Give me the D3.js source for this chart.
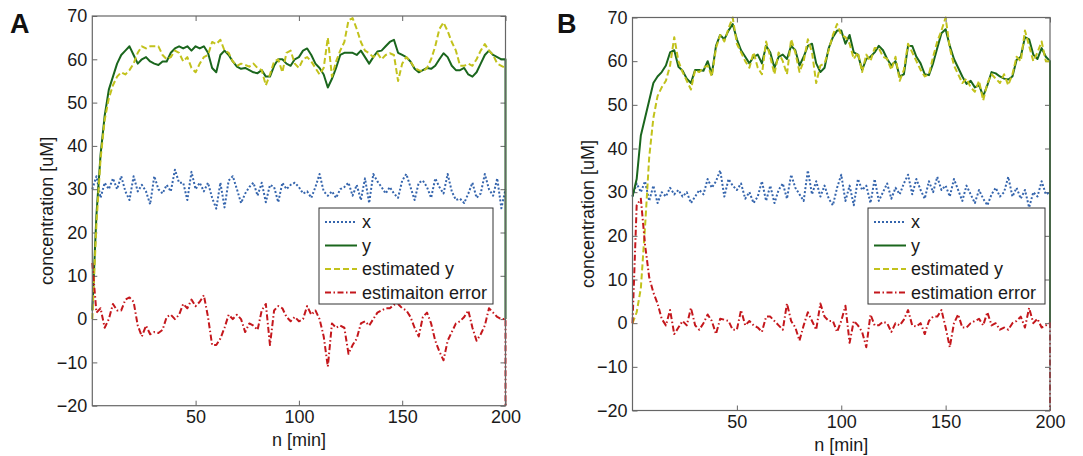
<!DOCTYPE html>
<html>
<head>
<meta charset="utf-8">
<script src="https://cdn.jsdelivr.net/npm/d3@7"></script>
<style>
  body { margin: 0; background: #fff; }
  text { font-family: "Liberation Sans", Arial, sans-serif; }
</style>
</head>
<body>
<svg id="chart" width="1083" height="456"></svg>
<script>
// sample times (min); the last time is repeated for the final drop of the simulation
const nGrid = [0,2,4,6,8,10,12,14,16,18,20,22,24,26,28,30,32,34,36,38,40,42,44,46,48,50,52,54,56,58,
  60,62,64,66,68,70,72,74,76,78,80,82,84,86,88,90,92,94,96,98,100,102,104,106,108,110,112,114,116,118,
  120,122,124,126,128,130,132,134,136,138,140,142,144,146,148,150,152,154,156,158,160,162,164,166,168,170,
  172,174,176,178,180,182,184,186,188,190,192,194,196,198,200,200];

// panel A
const aX = [30,33,28,31.5,30,32.5,30,33,29.5,27.5, 33,29.5,31,29.5,26.5,33,30,29,31,29.5,
  34.5,31.5,31.5,27.5,34,30,31.5,29.5,31.5,28, 25.5,31.5,25.8,32,33,30,26.8,29,30.5,31.5,
  28.5,31.5,27,31,30.5,27,31.5,30,31,31.5, 30.5,29,29.5,28,30.5,33.5,29.5,28.5,29.5,28,
  30,30.5,31.5,28.5,31,27.5,32.5,26.8,33.5,31.8, 30.5,29,30.5,29,28,32,33.5,30.5,27.5,31.5,
  32,30.5,28,32.5,30.5,29,33.5,29.5,27.5,27.8, 26.8,29,31.5,28,29,33.5,30,28.5,32.5,25.6, 30,30];
const aY = [2,24,38,47,53,56,59,61,62,63, 61,59,60,60.5,59.5,59,58.7,59.5,59.5,61.5,
  62.5,63,62.5,63,62,63,62.5,63,61.5,58, 57,61,62,61,59.5,58.3,57.8,58,57.5,57,
  56.8,57.5,56,56,58.5,60,60,59,58.5,60, 60.5,62,62.5,61,59,58,56.5,53.5,55.5,58,
  61,61.5,61.5,61.5,61,62,60.5,59,60.5,61.8, 62,63,64,64.5,61.5,61,60.5,59.5,57.8,57,
  57.5,58,57.8,58.5,60,61.4,60.5,58.5,57.5,57.5, 58,56.5,56,57,59,61,62,61,60.5,60, 60,0];
const aEst = [0,22,37,46,51,54,56,57,56.5,57.5, 59,61.5,63,62.5,63,63,63,61,60,60.5,
  62,61.5,59.5,60.5,58,57,59,60.5,61,64, 63.5,64.5,62,61.5,59.5,58.5,59,58.7,58.3,59,
  58,57.5,54,56.5,59.5,60,57,61.5,62,59, 58,60,60.5,59.5,58,56.5,58,65,56,59.5,
  62,64,69,69.5,67,64,62,61.4,60.5,61.4, 60,61,61.4,61,55,59,60.5,59.5,58,57.5,
  57.2,58,60,63,67,68.5,66.5,64,62,58.5, 58.5,59,58.5,60,62,63.5,62,61,59,58.5, 58,58];
const aErr = [13,1.5,2.5,-2,0,3.5,2,2,4.5,5, 4,-1.5,-4,-1.5,-3.5,-3,-3.2,-2.5,0.5,1,
  0,1,3.5,2.5,4.5,3,4,5.5,0.5,-6, -6,-4.5,-2,1,0,1,0,-3,-1,-1.5,
  -2.5,2,3.5,-6,2,3,2.5,0.5,-0.5,0.5, -0.5,0,3,1,2,0,-4,-11,-1,-2,
  -1.5,-2,-8,-6,-4.5,-1,-0.5,-1.5,0,1.5, 2,2.5,2.5,3.3,3.5,2.5,2,0.5,-2,-4,
  0.5,1.5,-1,-5,-7.5,-9.5,-5,-3,-1,-0.5, 0.5,2,-2,-5,-3.5,-1.5,2.5,1.5,0.5,0, 0,-20];

// panel B
const bX = [29,32,30,32.5,28,31.5,27.5,30,29,31, 29.5,30.5,29,30,27.5,29,30.5,29.5,33,31,
  32.5,35,29,33,31.5,30.5,32,28.5,30,27.5, 29,32.5,28,31.5,27.5,30.5,32,28.5,34,31,
  29.5,28,35,29.5,32.5,29,31.5,28.5,27,31, 34,28,31.5,27,33,30.5,31.5,27.5,33,28,
  30,32,28.5,31,29.5,32,34,29.5,33,30.5, 28.5,32.5,30,33.5,30.5,31.5,29,33,30.5,28,
  31.5,29.5,27.5,30.5,28.5,27,29.5,31,29,30, 33.5,29,31,28.5,30.5,26.5,30,29,32.5,29.5, 30,30];
const bY = [29,33,43,47,51,55,56.5,57.5,59,62, 62.5,58.7,57.8,56,55,58,58,57.8,60,57,
  63.5,66,65,67,68.5,65,62.5,61,59.5,61, 61.5,59.5,63.5,62,58.5,61,61.5,60.5,63.5,62.5,
  59,61,63.5,64,59.5,57.5,58.5,63,65.5,67, 67,64,66,62,61.5,58,60.5,61,62,63.5,
  62.5,60.5,59,60,56.5,57,63.5,63.5,61,59.5, 57,56.8,59.5,63,66.4,67.3,63.5,60.5,58.5,56.5,
  54.8,55.5,54,54.5,52,54.5,57.5,57.2,56.5,56, 55.8,56.5,60.3,61,65.5,65,61.5,60.5,63,61, 60,0];
const bEst = [0,2.5,8,22,38,47,52,54,55.5,59, 65.5,60,57.5,55.5,53.5,58,57.5,58.5,59,56.5,
  63,66,64.5,67.5,70,64,62,60,58.5,62, 58.5,57,64.5,61,57,62,60,57,65,62,
  57.5,60,65,62,55,59,59.5,62.5,66,68.5, 66,65.5,64,60.5,62,57.5,61.5,60,63,63,
  61,60.5,58,61,55.5,58,64,62,60,58, 56.5,57,61,64.5,67,70,63,59,57,55,
  56,54,53,55.5,51,55,57,56,55,57, 54.5,57,61,60,67,63.5,60,62,64.5,60, 60,60];
const bErr = [0,27,28.5,18,10.5,7,4.5,1,-0.5,3, -2.5,-1,0.5,-0.5,3.5,-0.5,-1.5,0,2,0.5,
  -2.5,1,0.8,0.5,-1.5,-1.5,3,-0.5,0.5,-0.5, -1,-2,1.5,1.5,0.5,-0.5,-1.5,4.5,0.5,-1,
  -4,-0.5,2.5,0.5,-1.5,4.5,1.5,0.5,0.5,-2, 0.5,4,-4.5,0.5,-0.5,-2,-5.5,2,-0.5,-0.5,
  0.3,0,-2,0,-0.5,0.8,3,-0.5,-0.8,0, -2.5,0.5,1.5,1.5,3,-1,-5.5,0,2,-1,
  -1,0,0.5,1,-0.5,2.5,-0.5,0,-1.5,-1, -1.5,0,0.5,1.5,-1,3.5,0,1,-1,-0.5, 0,-20];

const yTicks = [-20,-10,0,10,20,30,40,50,60,70];
const xTicks = [50,100,150,200];
const legendA = ["x", "y", "estimated y", "estimaiton error"];
const legendB = ["x", "y", "estimated y", "estimation error"];

const styles = [
  {color: "#3565ad", dash: "2,2", width: 2},
  {color: "#1a661d", dash: null, width: 2},
  {color: "#c2c21c", dash: "6,3", width: 2},
  {color: "#c4171c", dash: "6,2.5,1.5,2.5", width: 2}
];

const svg = d3.select("#chart");
const FONT = 18;

function drawPanel(p) {
  const g = svg.append("g");
  const x = d3.scaleLinear().domain([0, 200]).range([p.left, p.right]);
  const y = d3.scaleLinear().domain([-20, 70]).range([p.bottom, p.top]);

  const styleAxis = sel => {
    sel.select(".domain").remove();
    sel.selectAll(".tick line").attr("stroke", "#666");
    sel.selectAll("text").attr("font-size", FONT).attr("fill", "#1a1a1a")
      .attr("font-family", "'Liberation Sans', Arial, sans-serif");
  };

  g.append("g").attr("transform", `translate(${p.left},0)`)
    .call(d3.axisLeft(y).tickValues(yTicks).tickSize(-5).tickPadding(5)).call(styleAxis);
  g.append("g").attr("transform", `translate(${p.right},0)`)
    .call(d3.axisRight(y).tickValues(yTicks).tickSize(-5).tickFormat("")).call(styleAxis);
  g.append("g").attr("transform", `translate(0,${p.bottom})`)
    .call(d3.axisBottom(x).tickValues(xTicks).tickSize(-5).tickPadding(5)).call(styleAxis);
  g.append("g").attr("transform", `translate(0,${p.top})`)
    .call(d3.axisTop(x).tickValues(xTicks).tickSize(-5).tickFormat("")).call(styleAxis);

  const line = d3.line().x((d, i) => x(nGrid[i])).y(d => y(d));
  p.series.forEach((s, k) => {
    g.append("path").datum(s)
      .attr("fill", "none")
      .attr("stroke", styles[k].color)
      .attr("stroke-width", styles[k].width)
      .attr("stroke-dasharray", styles[k].dash)
      .attr("stroke-linejoin", "round")
      .attr("d", line);
  });

  g.append("rect")
    .attr("x", p.left).attr("y", p.top)
    .attr("width", p.right - p.left).attr("height", p.bottom - p.top)
    .attr("fill", "none").attr("stroke", "#666").attr("stroke-width", 1.2);

  // axis titles
  g.append("text")
    .attr("x", (p.left + p.right) / 2).attr("y", p.bottom + 40)
    .attr("text-anchor", "middle").attr("font-size", FONT).attr("fill", "#1a1a1a")
    .text("n [min]");
  g.append("text")
    .attr("transform", `translate(${p.left - 39},${(p.top + p.bottom) / 2}) rotate(-90)`)
    .attr("text-anchor", "middle").attr("font-size", FONT).attr("fill", "#1a1a1a")
    .text("concentration [uM]");

  // panel letter
  g.append("text")
    .attr("x", p.letterX).attr("y", 33)
    .attr("font-size", 27).attr("font-weight", "bold").attr("fill", "#111")
    .attr("font-family", "Arial, 'Liberation Sans', sans-serif")
    .text(p.letter);

  // legend
  const lg = g.append("g").attr("transform", `translate(${p.legX},${p.legY})`);
  lg.append("rect").attr("width", p.legW).attr("height", 96)
    .attr("fill", "#fff").attr("stroke", "#333").attr("stroke-width", 1);
  p.labels.forEach((lab, k) => {
    const cy = 14 + k * 23.5;
    lg.append("line").attr("x1", 6).attr("x2", 38).attr("y1", cy).attr("y2", cy)
      .attr("stroke", styles[k].color).attr("stroke-width", styles[k].width)
      .attr("stroke-dasharray", styles[k].dash);
    lg.append("text").attr("x", 43).attr("y", cy + 6)
      .attr("font-size", FONT).attr("fill", "#1a1a1a").text(lab);
  });
}

drawPanel({letter: "A", letterX: 10, left: 92.3, right: 505.5, top: 16, bottom: 405.7,
  series: [aX, aY, aEst, aErr], labels: legendA, legX: 319, legY: 208, legW: 174});
drawPanel({letter: "B", letterX: 557, left: 632.5, right: 1050, top: 17.5, bottom: 410.5,
  series: [bX, bY, bEst, bErr], labels: legendB, legX: 868, legY: 208, legW: 177});
</script>
</body>
</html>
